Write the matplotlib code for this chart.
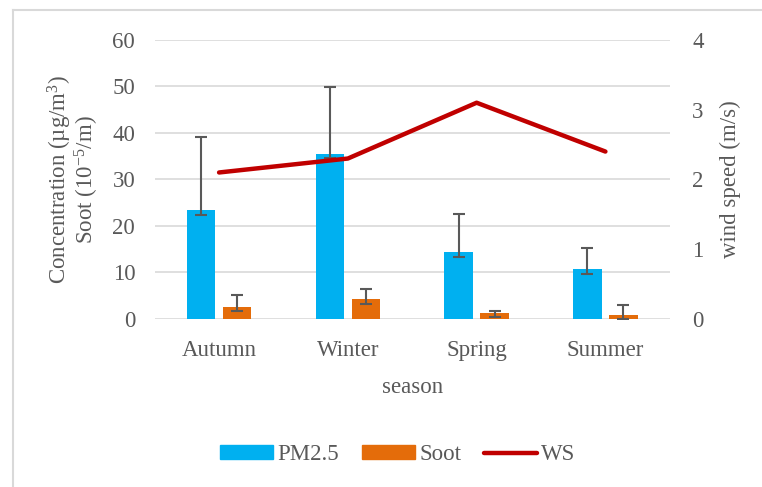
import numpy as np
import matplotlib.pyplot as plt
from matplotlib.patches import Patch
from matplotlib.lines import Line2D

plt.rcParams['font.family'] = ['Liberation Serif', 'DejaVu Serif']
plt.rcParams['mathtext.fontset'] = 'custom'
plt.rcParams['mathtext.rm'] = 'Liberation Serif'
plt.rcParams['mathtext.it'] = 'Liberation Serif:italic'

seasons = ["Autumn", "Winter", "Spring", "Summer"]
pm25 = [23.4, 35.5, 14.3, 10.7]
pm25_low = [22.4, 34.6, 13.3, 9.7]
pm25_high = [39.1, 49.8, 22.6, 15.3]
soot = [2.6, 4.3, 1.2, 0.9]
soot_low = [1.8, 3.3, 0.4, 0.0]
soot_high = [5.2, 6.4, 1.8, 2.9]
ws = [2.1, 2.3, 3.1, 2.4]

grey = '#595959'
fs = 16.5
x = np.arange(len(seasons))
w = 0.22
off = 0.14

fig = plt.figure(figsize=(7.62, 4.87), dpi=100)
ax = fig.add_axes([0.203, 0.345, 0.676, 0.573])
ax2 = ax.twinx()

# faint chart-area border (top and left edges only are visible in the crop)
fig.add_artist(Line2D([0.0175, 1.0], [0.979, 0.979], color='#d9d9d9', lw=1.5))
fig.add_artist(Line2D([0.0175, 0.0175], [0.0, 0.979], color='#d9d9d9', lw=1.5))

pm = np.array(pm25)
so = np.array(soot)
pm_err = [pm - np.array(pm25_low), np.array(pm25_high) - pm]
so_err = [so - np.array(soot_low), np.array(soot_high) - so]

ax.bar(x - off, pm25, w, color='#00B0F0', zorder=2)
ax.bar(x + off, soot, w, color='#E46C0A', zorder=2)
ax.errorbar(x - off, pm25, yerr=pm_err, fmt='none', ecolor=grey, elinewidth=1.5,
            capsize=4.5, capthick=1.5, zorder=3)
ax.errorbar(x + off, soot, yerr=so_err, fmt='none', ecolor=grey, elinewidth=1.5,
            capsize=4.5, capthick=1.5, zorder=3)

ax2.plot(x, ws, color='#C00000', lw=3.2, solid_capstyle='round', zorder=4)

ax.set_xlim(-0.5, 3.5)
ax.set_ylim(0, 60)
ax.set_yticks(range(0, 61, 10))
ax2.set_ylim(0, 4)
ax2.set_yticks(range(0, 5))
ax.set_xticks(x)
ax.set_xticklabels(seasons)
ax.yaxis.grid(True, color='#d9d9d9', lw=1.2, zorder=0)
ax.set_axisbelow(True)

for a in (ax, ax2):
    for s in a.spines.values():
        s.set_visible(False)
    a.tick_params(length=0, labelsize=fs, colors=grey)
ax.tick_params(axis='y', pad=14)
ax2.tick_params(axis='y', pad=16)
ax.tick_params(axis='x', pad=15)

ax.set_ylabel("Concentration (µg/m$^{3}$)\nSoot (10$^{-5}$/m)", fontsize=fs,
              color=grey, labelpad=8, linespacing=0.95)
ax2.set_ylabel("wind speed (m/s)", fontsize=fs, color=grey, labelpad=12)
ax.set_xlabel("season", fontsize=fs, color=grey, labelpad=12)

handles = [Patch(color='#00B0F0'), Patch(color='#E46C0A'),
           Line2D([0], [0], color='#C00000', lw=3.2, solid_capstyle='round')]
leg = fig.legend(handles, ["PM2.5", "Soot", "WS"], loc='center', ncol=3,
                 bbox_to_anchor=(0.522, 0.066), frameon=False, fontsize=fs,
                 handlelength=2.3, handleheight=0.55, handletextpad=0.2,
                 columnspacing=1.0)
for t in leg.get_texts():
    t.set_color(grey)

fig.savefig("out.png", dpi=100)
